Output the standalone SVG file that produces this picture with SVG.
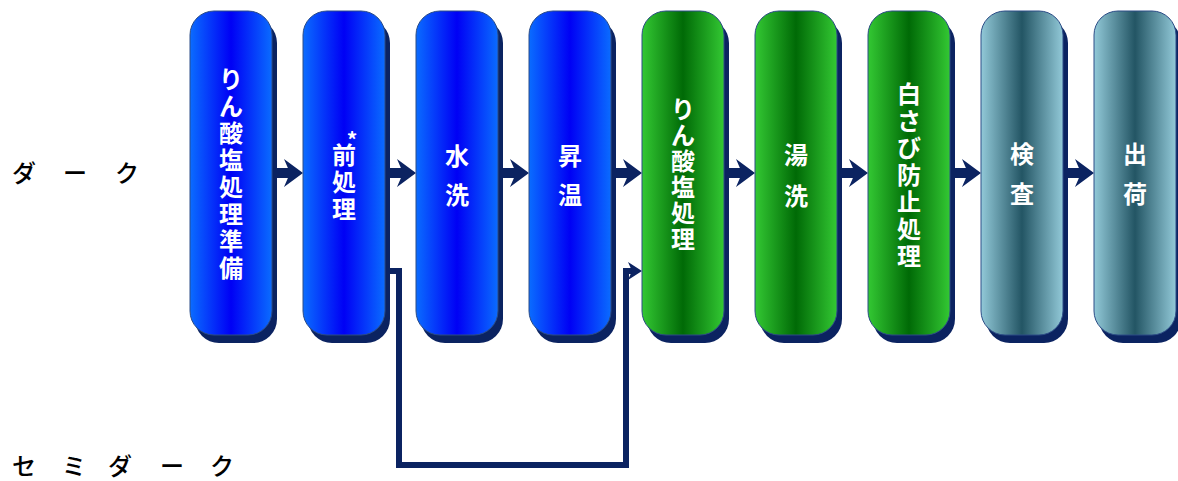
<svg xmlns="http://www.w3.org/2000/svg" xmlns:xlink="http://www.w3.org/1999/xlink" width="1178" height="481" viewBox="0 0 1178 481">
<defs>
<linearGradient id="gBlue" x1="0" y1="0" x2="1" y2="0">
<stop offset="0" stop-color="#0a6cff"/><stop offset="0.5" stop-color="#0000f5"/><stop offset="1" stop-color="#0a6cff"/>
</linearGradient>
<linearGradient id="gGreen" x1="0" y1="0" x2="1" y2="0">
<stop offset="0" stop-color="#33c833"/><stop offset="0.5" stop-color="#006a06"/><stop offset="1" stop-color="#33c833"/>
</linearGradient>
<linearGradient id="gTeal" x1="0" y1="0" x2="1" y2="0">
<stop offset="0" stop-color="#92c9d8"/><stop offset="0.5" stop-color="#235564"/><stop offset="1" stop-color="#92c9d8"/>
</linearGradient>
<path id="arr" d="M0,-5 H15.9 L12,-14 L31,0 L12,14 L15.9,5 H0 Z"/>
</defs>
<style>
.sh{fill:#0b2361}
.bx{stroke:#2c4c86;stroke-width:1}
.t{font-family:"Noto Sans CJK JP","Noto Sans",sans-serif;font-size:24px;font-weight:bold;fill:#ffffff;text-anchor:middle}
.lb{font-family:"Noto Sans CJK JP","Noto Sans",sans-serif;font-size:24px;font-weight:500;fill:#000000}
.ar{fill:#0b2361}
</style>
<rect width="1178" height="481" fill="#ffffff"/>

<g id="connectors">
<use xlink:href="#arr" class="ar" transform="translate(272,173)"/>
<use xlink:href="#arr" class="ar" transform="translate(385,173)"/>
<use xlink:href="#arr" class="ar" transform="translate(498,173)"/>
<use xlink:href="#arr" class="ar" transform="translate(611,173)"/>
<use xlink:href="#arr" class="ar" transform="translate(724,173)"/>
<use xlink:href="#arr" class="ar" transform="translate(837,173)"/>
<use xlink:href="#arr" class="ar" transform="translate(950,173)"/>
<use xlink:href="#arr" class="ar" transform="translate(1063,173)"/>
<path d="M383,271 H399 V465 H626 V271 H632" fill="none" stroke="#0b2361" stroke-width="6" stroke-linejoin="miter"/>
<path d="M628,262 L642,271 L628,280 L632,271 Z" class="ar"/>
</g>

<g id="node1">
<rect class="sh" x="195" y="19" width="82" height="324" rx="24"/>
<rect class="bx" x="190" y="11" width="82" height="324" rx="24" fill="url(#gBlue)"/>
<text class="t"><tspan x="231" y="88">り</tspan><tspan x="231" y="115">ん</tspan><tspan x="231" y="142">酸</tspan><tspan x="231" y="169">塩</tspan><tspan x="231" y="196">処</tspan><tspan x="231" y="223">理</tspan><tspan x="231" y="250">準</tspan><tspan x="231" y="277">備</tspan></text>
</g>
<g id="node2">
<rect class="sh" x="308" y="19" width="82" height="324" rx="24"/>
<rect class="bx" x="303" y="11" width="82" height="324" rx="24" fill="url(#gBlue)"/>
<text class="t" style="font-size:21px" x="352" y="148">*</text>
<text class="t"><tspan x="344" y="164">前</tspan><tspan x="344" y="191">処</tspan><tspan x="344" y="218">理</tspan></text>
</g>
<g id="node3">
<rect class="sh" x="421" y="19" width="82" height="324" rx="24"/>
<rect class="bx" x="416" y="11" width="82" height="324" rx="24" fill="url(#gBlue)"/>
<text class="t"><tspan x="457" y="165">水</tspan><tspan x="457" y="204">洗</tspan></text>
</g>
<g id="node4">
<rect class="sh" x="534" y="19" width="82" height="324" rx="24"/>
<rect class="bx" x="529" y="11" width="82" height="324" rx="24" fill="url(#gBlue)"/>
<text class="t"><tspan x="570" y="165">昇</tspan><tspan x="570" y="204">温</tspan></text>
</g>
<g id="node5">
<rect class="sh" x="647" y="19" width="82" height="324" rx="24"/>
<rect class="bx" x="642" y="11" width="82" height="324" rx="24" fill="url(#gGreen)"/>
<text class="t"><tspan x="683" y="118">り</tspan><tspan x="683" y="144">ん</tspan><tspan x="683" y="170">酸</tspan><tspan x="683" y="196">塩</tspan><tspan x="683" y="222">処</tspan><tspan x="683" y="248">理</tspan></text>
</g>
<g id="node6">
<rect class="sh" x="760" y="19" width="82" height="324" rx="24"/>
<rect class="bx" x="755" y="11" width="82" height="324" rx="24" fill="url(#gGreen)"/>
<text class="t"><tspan x="796" y="164">湯</tspan><tspan x="796" y="205">洗</tspan></text>
</g>
<g id="node7">
<rect class="sh" x="873" y="19" width="82" height="324" rx="24"/>
<rect class="bx" x="868" y="11" width="82" height="324" rx="24" fill="url(#gGreen)"/>
<text class="t"><tspan x="909" y="103">白</tspan><tspan x="909" y="130">さ</tspan><tspan x="909" y="157">び</tspan><tspan x="909" y="184">防</tspan><tspan x="909" y="211">止</tspan><tspan x="909" y="238">処</tspan><tspan x="909" y="265">理</tspan></text>
</g>
<g id="node8">
<rect class="sh" x="986" y="19" width="82" height="324" rx="24"/>
<rect class="bx" x="981" y="11" width="82" height="324" rx="24" fill="url(#gTeal)"/>
<text class="t"><tspan x="1022" y="163">検</tspan><tspan x="1022" y="203">査</tspan></text>
</g>
<g id="node9">
<rect class="sh" x="1099" y="19" width="82" height="324" rx="24"/>
<rect class="bx" x="1094" y="11" width="82" height="324" rx="24" fill="url(#gTeal)"/>
<text class="t"><tspan x="1135" y="163">出</tspan><tspan x="1135" y="203">荷</tspan></text>
</g>

<g id="label-dark">
<text class="lb" y="182"><tspan x="12">ダ</tspan> <tspan x="63">ー</tspan> <tspan x="115">ク</tspan></text>
</g>
<g id="label-semidark">
<text class="lb" y="475"><tspan x="12">セ</tspan> <tspan x="62">ミ</tspan> <tspan x="108">ダ</tspan> <tspan x="160">ー</tspan> <tspan x="210">ク</tspan></text>
</g>
</svg>
